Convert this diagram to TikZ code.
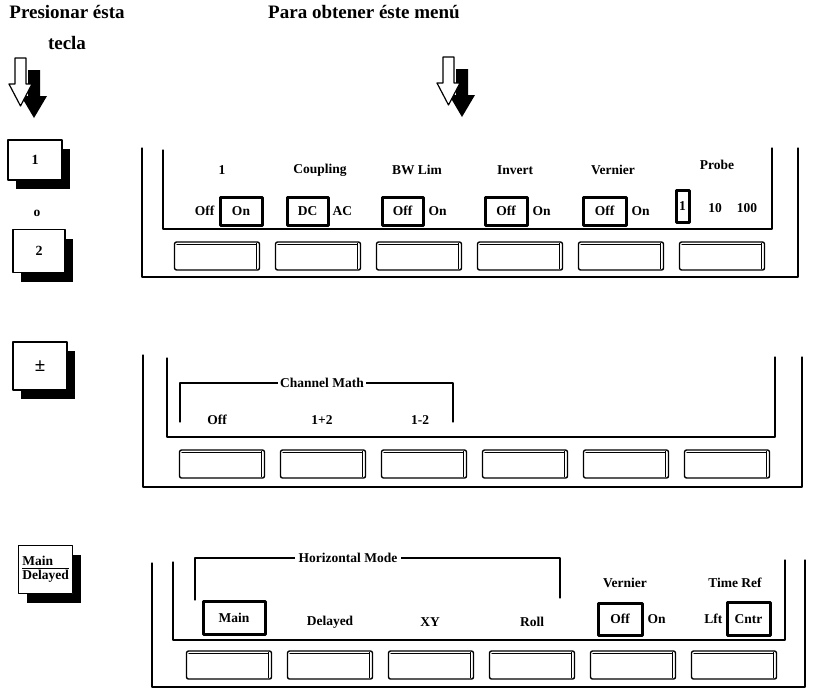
\documentclass[tikz,border=0pt]{standalone}
\usepackage{fontspec}
\setmainfont{Liberation Serif}
\usetikzlibrary{positioning,shadows}
\tikzset{
  frame/.style={line width=1.2pt},
  lbl/.style={font=\bfseries\fontsize{13.5}{15}\selectfont,inner sep=1pt},
  sel/.style={lbl,draw,line width=3pt,minimum height=28pt,inner xsep=5pt},
  hwkey/.style={draw,line width=1.2pt,fill=white,minimum width=54pt,minimum height=42pt,inner sep=1pt,
    font=\bfseries\fontsize{14}{16}\selectfont,drop shadow={shadow xshift=8pt,shadow yshift=-9pt,opacity=1,fill=black}},
  softkey/.style={draw,line width=1.4pt,rounded corners=2pt,minimum width=85pt,minimum height=28pt,inner sep=0pt},
  title/.style={font=\bfseries\fontsize{19}{31}\selectfont,align=center,inner sep=0pt},
  pointer/.pic={
    \fill (13,12) -- ++(12,0) -- ++(0,26) -- ++(7,0) -- ++(-13,22) -- ++(-13,-22) -- ++(7,0) -- cycle;
    \draw[fill=white,line width=1.2pt,line join=round] (0,0) -- (11,0) -- (11,26) -- (17,26) -- (5.5,48) -- (-6,26) -- (0,26) -- cycle;
  }
}
\newcommand\softrow[3]{%
  \foreach \i in {0,...,5}{
    \node[softkey] (#1\i) at (#2+101*\i,#3) {};
    \draw[line width=1pt] ([xshift=-4pt,yshift=-2pt]#1\i.north east) -- ([xshift=-4pt,yshift=2pt]#1\i.south east);
    \draw[line width=1pt] ([xshift=3pt,yshift=-3pt]#1\i.north west) -- ([xshift=-4pt,yshift=-3pt]#1\i.north east);
  }}
\begin{document}
\begin{tikzpicture}[x=1pt,y=-1pt,line join=round,line cap=round]
\useasboundingbox (0,0) rectangle (813,689);
\node[title,anchor=north] (press) at (67,5) {Presionar ésta\\tecla};
\node[title,anchor=north] (get) at (364,5) {Para obtener éste menú};
\pic at (15,58) {pointer};
\pic at (443,57) {pointer};
% keys
\node[hwkey,minimum height=40pt] (key1) at (35,160) {1};
\node[lbl] (or) at (37,213) {o};
\node[hwkey,minimum width=52pt,minimum height=43pt] (key2) at (39,251) {2};
\node[hwkey,minimum height=48pt,font=\bfseries\fontsize{19}{20}\selectfont] (keypm) at (40,366) {±};
\node[hwkey,minimum height=48pt,font=\bfseries\fontsize{13.5}{15}\selectfont,anchor=north west] (keymd) at (18,545)
  {\begin{tabular}{@{}l@{}}Main\\[-2pt]\hline Delayed\end{tabular}};
% menu 1
\draw[frame] (142,148) -- (142,277) -- (798,277) -- (798,148);
\draw[frame] (163,150) -- (163,229) -- (772,229) -- (772,148);
\node[lbl] (ch) at (222,170) {1};
\node[lbl] (cpl) at (320,170) {Coupling};
\node[lbl] (bw) at (417,170) {BW Lim};
\node[lbl] (inv) at (515,170) {Invert};
\node[lbl] (ver) at (613,170) {Vernier};
\node[lbl] (prb) at (717,165) {Probe};
\node[sel,minimum width=42pt] (chon) at (241,211) {On};
\node[lbl,left=3pt of chon] (choff) {Off};
\node[sel,minimum width=41pt] (dc) at (307.5,211) {DC};
\node[lbl,right=2pt of dc] (ac) {AC};
\node[sel,minimum width=41pt] (bwoff) at (402.5,211) {Off};
\node[lbl,right=3pt of bwoff] (bwon) {On};
\node[sel,minimum width=42pt] (invoff) at (506,211) {Off};
\node[lbl,right=3pt of invoff] (invon) {On};
\node[sel,minimum width=43pt] (veroff) at (604.5,211) {Off};
\node[lbl,right=3pt of veroff] (veron) {On};
\node[sel,minimum width=13pt,minimum height=32pt,inner xsep=1.5pt] (p1) at (682.5,206) {1};
\node[lbl] (p10) at (715,208) {10};
\node[lbl] (p100) at (747,208) {100};
\softrow{ma}{217}{256}
% menu 2
\draw[frame] (143,355) -- (143,487) -- (802,487) -- (802,357);
\draw[frame] (167,358) -- (167,437) -- (775,437) -- (775,357);
\draw[frame] (180,422) -- (180,383) -- (453,383) -- (453,422);
\node[lbl,fill=white,inner xsep=2pt] (math) at (322,383) {Channel Math};
\node[lbl] (moff) at (217,420) {Off};
\node[lbl] (madd) at (322,420) {1+2};
\node[lbl] (msub) at (420,420) {1-2};
\softrow{mb}{222}{464}
% menu 3
\draw[frame] (152,563) -- (152,687) -- (805,687) -- (805,560);
\draw[frame] (173,562) -- (173,640) -- (785,640) -- (785,560);
\draw[frame] (195,600) -- (195,558) -- (560,558) -- (560,598);
\node[lbl,fill=white,inner xsep=4pt] (hmode) at (348,558) {Horizontal Mode};
\node[sel,minimum width=62pt,minimum height=33pt] (main) at (234,618) {Main};
\node[lbl] (dly) at (330,622) {Delayed};
\node[lbl] (xy) at (430,622) {XY};
\node[lbl] (roll) at (532,622) {Roll};
\node[lbl] (hver) at (625,583) {Vernier};
\node[lbl] (tref) at (735,583) {Time Ref};
\node[sel,minimum width=44pt,minimum height=32pt] (hvoff) at (620,619) {Off};
\node[lbl,right=3pt of hvoff] (hvon) {On};
\node[sel,minimum width=43pt,minimum height=33pt] (cntr) at (748.5,619) {Cntr};
\node[lbl,left=2pt of cntr] (lft) {Lft};
\softrow{mc}{229}{665}
\end{tikzpicture}
\end{document}
